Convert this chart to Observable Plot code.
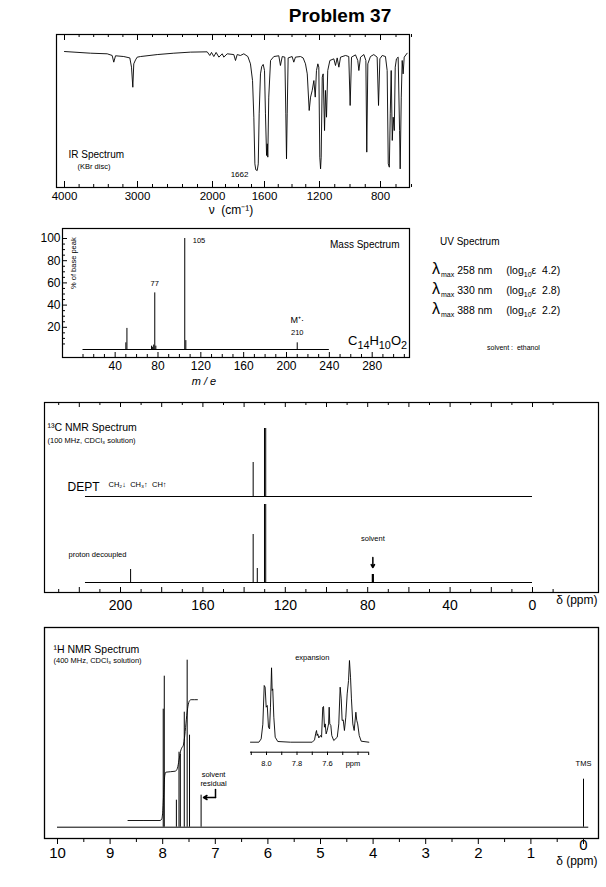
<!DOCTYPE html>
<html><head><meta charset="utf-8">
<script src="https://cdn.jsdelivr.net/npm/d3@7"></script>
<script src="https://cdn.jsdelivr.net/npm/@observablehq/plot@0.6"></script>
<style>
html,body{margin:0;padding:0;background:#fff;}
#page{position:relative;width:606px;height:887px;overflow:hidden;font-family:"Liberation Sans",Arial,Helvetica,sans-serif;color:#000;background:#fff;}
.t{position:absolute;white-space:nowrap;line-height:1;color:#000;}
</style></head><body><div id="page"></div>
<script>
// ================= DATA =================
const problemTitle = "Problem 37";
// IR spectrum (KBr disc): wavenumber (cm-1) and % transmittance
const irWavenumber = [4000,3644,3415,3347,3325,3301,3188,3105,3082,3064,3051,3027,3004,2960,2737,2516,2293,2071,2036,2013,
  1990,1972,1951,1925,1913,1887,1836,1823,1810,1785,1759,1728,1708,1692,1682,1674,1667,1656,1648,1641,
  1631,1621,1610,1600,1593,1585,1580,1576,1569,1556,1532,1496,1484,1471,1452,1445,1440,1435,1428,1399,
  1387,1375,1338,1319,1302,1289,1275,1265,1253,1241,1231,1222,1212,1205,1198,1193,1189,1182,1176,1167,
  1161,1154,1146,1132,1106,1095,1084,1073,1062,1029,1008,999,990,964,949,942,931,909,896,890,
  883,866,844,822,813,804,789,768,757,750,743,737,731,724,718,711,705,697,686,677,
  673,666,660,654,647,628];
const irTransmittance = [88.8,87.7,87.3,86.2,81.8,86.0,85.5,84.6,78.5,65.3,80.7,83.3,85.1,85.5,86.8,87.7,88.4,88.6,86.2,88.2,
  85.5,88.2,85.1,87.3,85.1,87.3,86.8,82.9,86.8,86.2,87.3,85.5,80.7,69.7,45.6,14.9,11.0,10.5,14.9,47.8,
  74.1,79.0,80.3,76.3,47.8,20.4,28.1,19.3,58.8,82.9,85.5,86.0,79.6,85.5,85.1,47.8,18.2,47.8,84.6,85.5,
  81.8,85.1,85.5,84.6,80.7,74.1,50.0,58.8,63.2,69.7,58.8,76.3,80.7,78.5,19.3,11.6,19.3,71.9,74.1,36.8,
  63.2,45.6,76.3,82.9,84.0,79.6,84.6,78.5,85.1,86.2,85.5,53.3,85.1,86.6,82.9,76.3,85.1,86.8,82.9,22.6,
  80.7,85.5,86.8,85.1,53.3,84.0,86.2,85.5,76.3,14.9,12.7,47.8,76.3,30.3,45.6,36.8,78.5,84.0,85.1,36.8,
  11.6,58.8,82.9,74.1,85.1,87.7];
const irTickLabels = [4000, 3000, 2000, 1600, 1200, 800];
const irCarbonylLabel = 1662;

// Mass spectrum: m/e and % of base peak
const msMass      = [50, 51, 74, 75, 76, 77, 78, 105, 106, 210];
const msIntensity = [6, 19, 3, 2, 4, 51, 3, 100, 8, 6];
const msTickLabels  = [40, 80, 120, 160, 200, 240, 280];
const msYTickLabels = [20, 40, 60, 80, 100];
const msLabelledPeaks = [105, 77];
const msMolecularIon = 210;
const msFormula = "C<sub>14</sub>H<sub>10</sub>O<sub>2</sub>";

// UV spectrum
const uvLambdaMax = [258, 330, 388];
const uvLogEpsilon = [4.2, 2.8, 2.2];
const uvSolvent = "ethanol";

// 13C NMR (ppm, relative height)
const c13Shift  = [195.1, 135.6, 133.6, 130.1, 129.5];
const c13Height = [13, 48, 14, 78, 78];
const deptShift  = [135.6, 130.1, 129.5];
const deptHeight = [34, 68, 68];
const c13SolventShift = [77.5];
const c13SolventHeight = [8];
const c13TickLabels = [200, 160, 120, 80, 40, 0];

// 1H NMR (ppm, relative height)
const h1Shift  = [7.99, 7.97, 7.74, 7.69, 7.665, 7.59, 7.535, 7.49];
const h1Height = [118, 151, 27, 75, 73, 115, 167, 92];
const h1SolventShift = [7.27];
const h1SolventHeight = [32];
const tmsShift = [0];
const tmsHeight = [48];
const h1IntegralShift = [8.66, 8.05, 8.02, 8.00, 7.98, 7.96, 7.94, 7.76, 7.72, 7.69, 7.66, 7.63, 7.61, 7.58, 7.55, 7.52, 7.49, 7.46, 7.34];
const h1IntegralValue = [6.7, 6.7, 8, 15, 35, 52, 55, 56, 59, 67, 76, 80, 81.5, 92, 108, 121, 126.5, 127.5, 127.5];
const h1TickLabels = [10, 9, 8, 7, 6, 5, 4, 3, 2, 1, 0];
// 1H expansion trace
const expShift = [8.105,8.05,8.035,8.024,8.015,8.009,8.002,7.995,7.987,7.980,7.974,7.967,7.963,7.959,7.952,7.943,7.926,7.843,7.70,7.685,
  7.677,7.672,7.668,7.664,7.657,7.646,7.639,7.631,7.626,7.620,7.615,7.609,7.602,7.593,7.589,7.585,7.578,7.572,7.559,7.536,
  7.526,7.517,7.510,7.504,7.497,7.489,7.480,7.471,7.462,7.456,7.449,7.443,7.434,7.425,7.414,7.408,7.402,7.392,7.379,7.329];
const expIntensity = [0,0,3.3,18,56.7,55,35,36.7,15,13.3,35,74.4,51.7,53.3,25,5,0.7,0,0,2.3,
  9,11.7,6.7,8.3,4.3,6.7,5,35,35.7,15,18.3,8.3,11.7,18.3,35,18.3,16.7,6.7,1.7,5,
  18.3,55,43.3,21.7,22.3,11.7,25,48.3,61.7,81.7,65,43.3,18.3,11.7,30,21.7,18.3,6.7,1,0];
const expTickLabels = [8.0, 7.8, 7.6];

// ================= DRAWING =================
const FONT = '"Liberation Sans", Arial, Helvetica, sans-serif';
const W = 606, K = "#000";
const page = document.getElementById("page");
const baseStyle = {background: "transparent", fontFamily: FONT, overflow: "visible", color: "#000"};
function mount(el, top) { el.style.position = "absolute"; el.style.left = "0px"; el.style.top = top + "px"; page.appendChild(el); }
function html(text, left, top, css) { const d = document.createElement("div"); d.className = "t"; d.style.left = left + "px"; d.style.top = top + "px"; d.style.cssText += css || ""; d.innerHTML = text; page.appendChild(d); return d; }

// Title
html(problemTitle, 340, 6, "font-size:19px;font-weight:bold;transform:translateX(-50%);");

// ---------- IR ----------
{
  const top = 28, height = 196, fL = 56, fR = 409, fT = 34, fB = 187;
  const yPage = d3.scaleLinear().domain([0, 100]).range([186, 34]);
  const yv = p => yPage.invert(p);
  const ticks = d3.range(4000, 2000, -200).concat(d3.range(2000, 599, -100));
  const tlen = d => irTickLabels.includes(d) ? 6 : 3;
  const data = irWavenumber.map((w, i) => ({w, t: irTransmittance[i]}));
  const svg = Plot.plot({
    width: W, height, style: baseStyle,
    marginLeft: fL, marginRight: W - fR, marginTop: fT - top, marginBottom: top + height - fB,
    x: {type: "linear", domain: [4000, 3000, 2000, 1600, 1200, 800, 600], range: [64, 137, 212, 264, 319, 380, 411], axis: null},
    y: {domain: [0, 100], range: [186 - top, 34 - top], axis: null},
    marks: [
      Plot.frame({stroke: K, strokeWidth: 1.2}),
      Plot.ruleX(ticks, {x: d => d, y1: () => yv(fT), y2: d => yv(fT + tlen(d)), stroke: K}),
      Plot.ruleX(ticks, {x: d => d, y1: () => yv(fB), y2: d => yv(fB - tlen(d)), stroke: K}),
      Plot.line(data, {x: "w", y: "t", stroke: K, strokeWidth: 0.9}),
      Plot.text(irTickLabels, {x: d => d, y: () => yv(196), text: d => String(d), fontSize: 11.5, fill: K}),
      Plot.text(["ν  (cm⁻¹)"], {frameAnchor: "bottom", text: d => d, dx: -2, dy: 26, fontSize: 12, fill: K}),
      Plot.text(["IR Spectrum"], {frameAnchor: "top-left", text: d => d, textAnchor: "start", dx: 12, dy: 116, fontSize: 10, fill: K}),
      Plot.text(["(KBr disc)"], {frameAnchor: "top-left", text: d => d, textAnchor: "start", dx: 21, dy: 129, fontSize: 7.5, fill: K}),
      Plot.text([irCarbonylLabel], {x: d => d, y: () => yv(174), text: d => String(d), textAnchor: "end", dx: -8, fontSize: 8, fill: K})
    ]
  });
  mount(svg, top);
}

// ---------- Mass spectrum ----------
{
  const top = 224, height = 168, fL = 62, fR = 409, fT = 228, fB = 357;
  const xPage = d3.scaleLinear().domain([0, 280]).range([71.8, 371.7]);
  const yPage = d3.scaleLinear().domain([0, 100]).range([349, 238]);
  const xv = p => xPage.invert(p), yv = p => yPage.invert(p);
  const ms = msMass.map((m, i) => ({m, v: msIntensity[i]}));
  const xt = d3.range(10, 311, 10), yt = d3.range(5, 101, 5);
  const svg = Plot.plot({
    width: W, height, style: baseStyle,
    marginLeft: fL, marginRight: W - fR, marginTop: fT - top, marginBottom: top + height - fB,
    x: {domain: [0, 280], range: [71.8, 371.7], axis: null},
    y: {domain: [0, 100], range: [349 - top, 238 - top], axis: null},
    marks: [
      Plot.frame({stroke: K, strokeWidth: 1.2}),
      Plot.ruleX(xt, {x: d => d, y1: () => yv(fB), y2: d => yv(fB - (d % 40 === 0 ? 5 : 3)), stroke: K}),
      Plot.ruleY(yt, {y: d => d, x1: () => xv(fL), x2: d => xv(fL + (d % 20 === 0 ? 5 : 3)), stroke: K}),
      Plot.ruleY([0], {y: d => d, x1: () => 10, x2: () => 240, stroke: K}),
      Plot.ruleX(ms, {x: "m", y1: () => 0, y2: "v", stroke: K}),
      Plot.text(msYTickLabels, {x: () => xv(fL - 2), y: d => d, text: d => String(d), textAnchor: "end", fontSize: 12, fill: K}),
      Plot.text(msTickLabels, {x: d => d, y: () => yv(366), text: d => String(d), fontSize: 12, fill: K}),
      Plot.text(["m / e"], {frameAnchor: "bottom", text: d => d, dx: -32, dy: 27, fontSize: 11, fontStyle: "italic", fill: K}),
      Plot.text(["% of base peak"], {frameAnchor: "left", text: d => d, dx: 11, dy: -4, rotate: -90, fontSize: 7.5, fill: K}),
      Plot.text(["Mass Spectrum"], {frameAnchor: "top-right", text: d => d, textAnchor: "end", dx: -10, dy: 12, fontSize: 10, fill: K}),
      Plot.text([msLabelledPeaks[0]], {x: d => d, y: () => yv(240), text: d => String(d), textAnchor: "start", dx: 8, fontSize: 7.5, fill: K}),
      Plot.text([msLabelledPeaks[1]], {x: d => d, y: () => yv(283), text: d => String(d), fontSize: 7.5, fill: K}),
      Plot.text([msMolecularIon], {x: d => d, y: () => yv(320), text: () => "M⁺·", fontSize: 9, fill: K}),
      Plot.text([msMolecularIon], {x: d => d, y: () => yv(332), text: d => String(d), fontSize: 7.5, fill: K})
    ]
  });
  mount(svg, top);
  html(msFormula, 348, 334, "font-size:13px;line-height:13px;");
}

// ---------- UV text ----------
html("UV Spectrum", 440, 237, "font-size:10px;");
{
  const ys = [261, 281, 301];
  uvLambdaMax.forEach((l, i) => {
    html(`<span style="font-size:16px;line-height:16px">λ</span><span style="font-size:7px;position:relative;top:3px;margin-left:1px">max</span>` +
      `<span style="font-size:10.5px;margin-left:3px">${l} nm</span>` +
      `<span style="font-size:10.5px;margin-left:14px">(log<span style="font-size:7px;position:relative;top:3px">10</span>ε&nbsp;&nbsp;${uvLogEpsilon[i].toFixed(1)})</span>`,
      432, ys[i], "line-height:16px;height:16px;");
  });
  html(`solvent :&nbsp;&nbsp;${uvSolvent}`, 487, 344, "font-size:7px;");
}

// ---------- 13C NMR ----------
{
  const top = 392, height = 226, fL = 44, fR = 598, fT = 402, fB = 592;
  const yv = p => 582 - p;
  const DEPT_DY = -86;
  const ticks = d3.range(230, -11, -10);
  const len = d => d % 20 === 0 ? 5 : 3;
  const c13 = c13Shift.map((s, i) => ({s, h: c13Height[i]}));
  const dept = deptShift.map((s, i) => ({s, h: deptHeight[i]}));
  const svg = Plot.plot({
    width: W, height, style: baseStyle,
    marginLeft: fL, marginRight: W - fR, marginTop: fT - top, marginBottom: top + height - fB,
    x: {domain: [200, 0], range: [120, 532], axis: null},
    y: {domain: [0, 100], range: [582 - top, 482 - top], axis: null},
    marks: [
      Plot.frame({stroke: K, strokeWidth: 1.2}),
      Plot.ruleX(ticks, {x: d => d, y1: () => yv(fT), y2: d => yv(fT + len(d)), stroke: K}),
      Plot.ruleX(ticks, {x: d => d, y1: () => yv(fB), y2: d => yv(fB - len(d)), stroke: K}),
      Plot.ruleY([0], {y: d => d, x1: () => 217, x2: () => 0, dy: DEPT_DY, stroke: K}),
      Plot.ruleY([0], {y: d => d, x1: () => 217, x2: () => 0, stroke: K}),
      Plot.ruleX(dept, {x: "s", y1: () => 0, y2: "h", dy: DEPT_DY, stroke: K}),
      Plot.ruleX(c13, {x: "s", y1: () => 0, y2: "h", stroke: K}),
      Plot.ruleX(c13SolventShift, {x: d => d, y1: () => 0, y2: (d, i) => c13SolventHeight[i], stroke: K, strokeWidth: 2.2}),
      Plot.arrow(c13SolventShift, {x1: d => d, x2: d => d, y1: () => yv(557), y2: () => yv(567), headLength: 4, stroke: K}),
      Plot.text(c13SolventShift, {x: d => d, y: () => yv(538), text: () => "solvent", fontSize: 7.5, fill: K}),
      Plot.text(c13TickLabels, {x: d => d, y: () => yv(605), text: d => String(d), fontSize: 14, fill: K}),
      Plot.text(["δ (ppm)"], {frameAnchor: "bottom-right", text: d => d, textAnchor: "end", dx: -1, dy: 11, fontSize: 12, fill: K}),
      Plot.text(["¹³C NMR Spectrum"], {frameAnchor: "top-left", text: d => d, textAnchor: "start", dx: 3, dy: 21, fontSize: 10.5, fill: K}),
      Plot.text(["(100 MHz, CDCl₃ solution)"], {frameAnchor: "top-left", text: d => d, textAnchor: "start", dx: 3, dy: 35, fontSize: 7.5, fill: K}),
      Plot.text(["DEPT"], {frameAnchor: "top-left", text: d => d, textAnchor: "start", dx: 23, dy: 80, fontSize: 12, fill: K}),
      Plot.text(["CH₂↓  CH₃↑  CH↑"], {frameAnchor: "top-left", text: d => d, textAnchor: "start", dx: 64, dy: 79, fontSize: 7.5, fill: K}),
      Plot.text(["proton decoupled"], {frameAnchor: "top-left", text: d => d, textAnchor: "start", dx: 24, dy: 149, fontSize: 7.5, fill: K})
    ]
  });
  mount(svg, top);
}

// ---------- 1H NMR ----------
{
  const top = 618, height = 269, fL = 44, fR = 598, fT = 627, fB = 838;
  const yv = p => 826.7 - p;
  const xv = p => (583 - p) / 52.6;
  const ticks = d3.range(0, 10.01, 0.5);
  const len = d => Number.isInteger(d) ? 6 : 4;
  const peaks = h1Shift.map((s, i) => ({s, h: h1Height[i]}));
  const integ = h1IntegralShift.map((s, i) => ({s, v: h1IntegralValue[i]}));
  const svg = Plot.plot({
    width: W, height, style: baseStyle,
    marginLeft: fL, marginRight: W - fR, marginTop: fT - top, marginBottom: top + height - fB,
    x: {domain: [10, 0], range: [57, 583], axis: null},
    y: {domain: [0, 170], range: [826.7 - top, 656.7 - top], axis: null},
    marks: [
      Plot.frame({stroke: K, strokeWidth: 1.3}),
      Plot.ruleX(ticks, {x: d => d, y1: () => yv(fB), y2: d => yv(fB + len(d)), stroke: K}),
      Plot.ruleY([0], {y: d => d, x1: () => 10, x2: () => -0.1, stroke: K}),
      Plot.ruleX(peaks, {x: "s", y1: () => 0, y2: "h", stroke: K}),
      Plot.ruleX(h1SolventShift, {x: d => d, y1: () => 0, y2: (d, i) => h1SolventHeight[i], stroke: K}),
      Plot.ruleX(tmsShift, {x: d => d, y1: () => 0, y2: (d, i) => tmsHeight[i], stroke: K}),
      Plot.line(integ, {x: "s", y: "v", stroke: K, strokeWidth: 0.9, curve: "monotone-x"}),
      Plot.text(h1TickLabels, {x: d => d, y: d => yv(d === 0 ? 845 : 853), text: d => String(d), fontSize: 15, fill: K}),
      Plot.text(["δ (ppm)"], {frameAnchor: "bottom-right", text: d => d, textAnchor: "end", dx: -1, dy: 26, fontSize: 12, fill: K}),
      Plot.text(["¹H NMR Spectrum"], {frameAnchor: "top-left", text: d => d, textAnchor: "start", dx: 9, dy: 18, fontSize: 10.5, fill: K}),
      Plot.text(["(400 MHz, CDCl₃ solution)"], {frameAnchor: "top-left", text: d => d, textAnchor: "start", dx: 9, dy: 30, fontSize: 7.5, fill: K}),
      Plot.text(["solvent", "residual"], {x: () => xv(213), y: (d, i) => yv(774 + 9 * i), text: d => d, fontSize: 7.5, fill: K}),
      Plot.line([[xv(215), yv(789)], [xv(215), yv(797)]], {x: d => d[0], y: d => d[1], stroke: K}),
      Plot.arrow([0], {x1: () => xv(215), x2: () => xv(203), y1: () => yv(797), y2: () => yv(797), headLength: 4, stroke: K}),
      Plot.text(tmsShift, {x: d => d, y: () => yv(763), text: () => "TMS", fontSize: 7.5, fill: K})
    ]
  });
  mount(svg, top);
}

// ---------- 1H expansion ----------
{
  const top = 645, height = 130;
  const yv = p => 741.7 - p;
  const exp = expShift.map((s, i) => ({s, v: expIntensity[i]}));
  const ticks = d3.range(81, 73, -1).map(d => d / 10);
  const svg = Plot.plot({
    width: W, height, style: baseStyle,
    marginLeft: 0, marginRight: 0, marginTop: 0, marginBottom: 0,
    x: {domain: [8.0, 7.6], range: [266, 327], axis: null},
    y: {domain: [0, 85], range: [741.7 - top, 656.7 - top], axis: null},
    marks: [
      Plot.line(exp, {x: "s", y: "v", stroke: K, strokeWidth: 0.9}),
      Plot.ruleY([0], {y: () => yv(751.7), x1: () => 8.105, x2: () => 7.33, stroke: K}),
      Plot.ruleX(ticks.concat([7.33]), {x: d => d, y1: () => yv(751.7), y2: () => yv(755), stroke: K}),
      Plot.text(expTickLabels, {x: d => d, y: () => yv(763), text: d => d.toFixed(1), fontSize: 7.5, fill: K}),
      Plot.text(["ppm"], {x: () => 7.433, y: () => yv(763), text: d => d, fontSize: 7.5, fill: K}),
      Plot.text(["expansion"], {x: () => 7.70, y: () => yv(657), text: d => d, fontSize: 7.5, fill: K})
    ]
  });
  mount(svg, top);
}
</script></body></html>
